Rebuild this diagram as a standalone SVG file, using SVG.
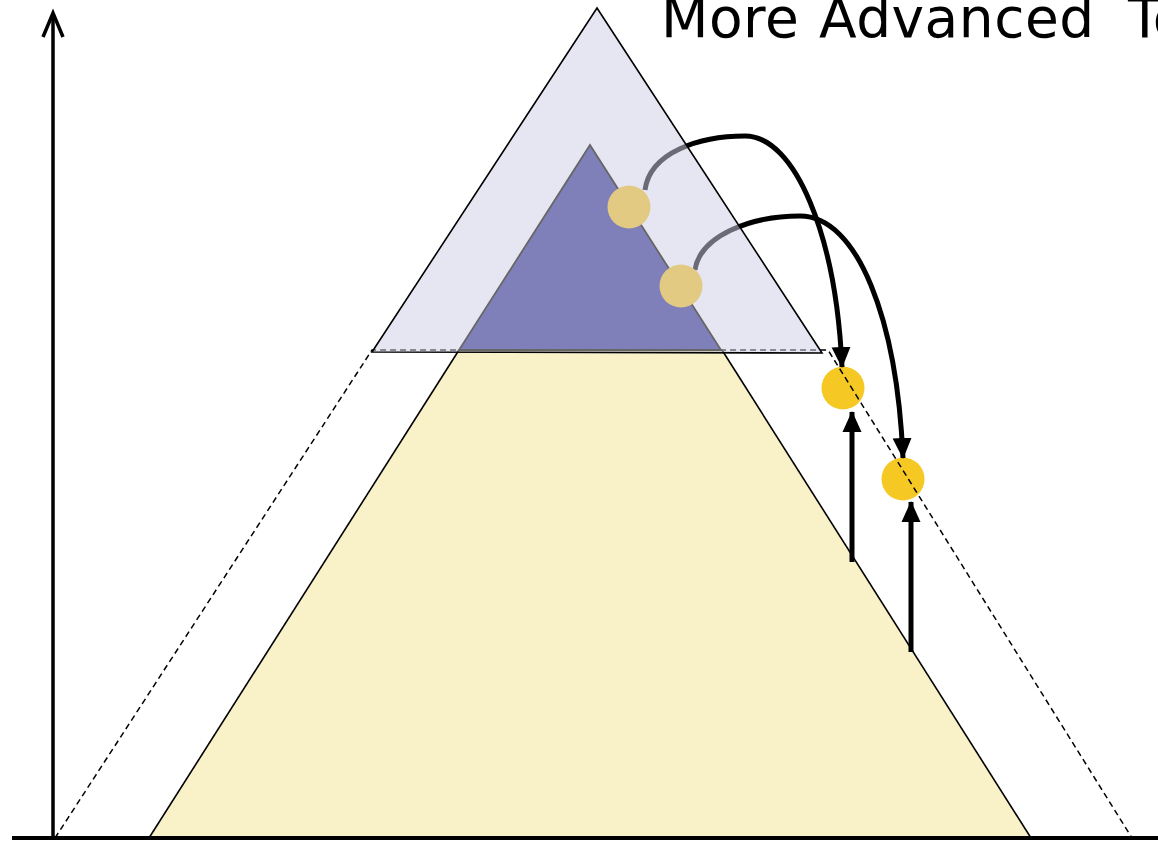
<svg xmlns="http://www.w3.org/2000/svg" width="1158" height="841" viewBox="0 0 1158 841">
<style>
.edge{stroke:#000;stroke-width:1.6;fill:none}
.dash{stroke:#000;stroke-width:1.5;fill:none;stroke-dasharray:6 4}
.conn{stroke:#000;stroke-width:5;fill:none}
.axis{stroke:#000;fill:none}
.title{font-family:"DejaVu Sans","Verdana",sans-serif;font-size:55px;letter-spacing:0.5px;fill:#000}
</style>
<defs>
<marker id="ah" markerUnits="userSpaceOnUse" markerWidth="22" markerHeight="22" viewBox="0 0 22 22" refX="20" refY="11" orient="auto">
<path d="M0,1.5 L21,11 L0,20.5 Z" fill="#000"/>
</marker>
</defs>
<rect width="1158" height="841" fill="#fff"/>
<g id="base-trapezoid">
<polygon points="459,350 722,350 1031,838 149,838" fill="#F9F1C8"/>
<line class="edge" x1="459" y1="350" x2="149" y2="838"/>
<line class="edge" x1="722" y1="350" x2="1031" y2="838"/>
</g>
<g id="node-y1"><circle cx="843" cy="388" r="21.5" fill="#F5C823"/></g>
<g id="node-y2"><circle cx="903" cy="479" r="21.5" fill="#F5C823"/></g>
<g id="dashed-outline">
<polyline class="dash" points="55,838 372,350 828,350 1132,838"/>
</g>
<g id="connectors">
<path class="conn" d="M645,190 C650,152 700,136 745,136 C795,136 836,235 842,367" marker-end="url(#ah)"/>
<path class="conn" d="M695,270 C700,236 750,216 800,216 C858,216 897,320 903,458" marker-end="url(#ah)"/>
<line class="conn" x1="852" y1="562" x2="852" y2="412" marker-end="url(#ah)"/>
<line class="conn" x1="911" y1="652" x2="911" y2="502" marker-end="url(#ah)"/>
</g>
<g id="outer-triangle">
<polygon points="597,8 822,353 372,352" fill="rgb(206,206,230)" fill-opacity="0.518" stroke="#000" stroke-width="1.6"/>
</g>
<g id="inner-triangle">
<polygon points="590,145 721,350 459,350" fill="#7F80BA" stroke="#666" stroke-width="1.8"/>
</g>
<g id="node-b1"><circle cx="629" cy="207" r="21.5" fill="#E2CA82"/></g>
<g id="node-b2"><circle cx="681" cy="286" r="21.5" fill="#E2CA82"/></g>
<g id="axes">
<line class="axis" x1="12" y1="838" x2="1158" y2="838" stroke-width="4"/>
<line class="axis" x1="53" y1="838" x2="53" y2="13" stroke-width="3.5"/>
<polyline class="axis" points="43,37 53,13 63,37" stroke-width="3.5"/>
</g>
<text class="title" y="37"><tspan x="661">More </tspan><tspan x="819">Advanced </tspan><tspan x="1128">To</tspan></text>
</svg>
